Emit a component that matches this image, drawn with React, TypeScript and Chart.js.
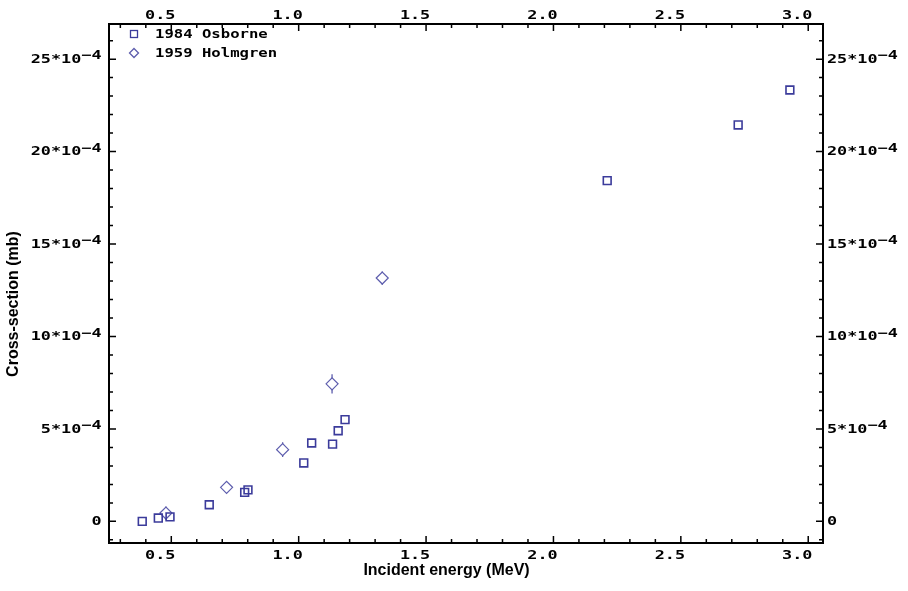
import React, { useEffect, useRef } from 'react';
import { Chart, registerables } from 'chart.js';

Chart.register(...registerables);

// ---- data ----
const osborneEnergy = [0.386, 0.449, 0.495, 0.649, 0.788, 0.801, 1.020, 1.051, 1.133, 1.155, 1.182, 2.211, 2.725, 2.928];
const osborneXS = [0.0e-4, 0.18e-4, 0.24e-4, 0.90e-4, 1.57e-4, 1.70e-4, 3.16e-4, 4.24e-4, 4.18e-4, 4.90e-4, 5.50e-4, 18.43e-4, 21.44e-4, 23.33e-4];

const holmgrenEnergy = [0.479, 0.717, 0.937, 1.131, 1.328];
const holmgrenXS = [0.45e-4, 1.84e-4, 3.88e-4, 7.44e-4, 13.16e-4];
const holmgrenErr = [0.35e-4, 0.2e-4, 0.4e-4, 0.52e-4, 0.36e-4];

const xMajorTicks = [0.5, 1.0, 1.5, 2.0, 2.5, 3.0];
const yMajorTicks = [0, 5e-4, 10e-4, 15e-4, 20e-4, 25e-4];
const legendLabels = ['1984 Osborne', '1959 Holmgren'];
const xTitle = 'Incident energy (MeV)';
const yTitle = 'Cross-section (mb)';

const X_MIN = 0.2555;
const X_MAX = 3.058;
const Y_MIN = -1.17e-4;
const Y_MAX = 26.9e-4;

const SQUARE_COLOR = '#3b3b9b';
const DIAMOND_COLOR = '#5d5dad';
const MONO = 'bold 12px "DejaVu Sans Mono", monospace';
const TICK_STRETCH = 1.4;
const LEGEND_STRETCH = 1.3;

const xLabel = (v: number) => Number(v).toFixed(1);
const yLabelParts = (v: number): [string, string] => {
  const n = Math.round(Number(v) * 1e4);
  return n === 0 ? ['0', ''] : [`${n}*10`, '\u22124'];
};

function stretchedWidth(ctx: CanvasRenderingContext2D, t: string, sx: number) {
  return t ? ctx.measureText(t).width * sx : 0;
}
function drawStretched(ctx: CanvasRenderingContext2D, t: string, x: number, y: number, sx: number) {
  ctx.save();
  ctx.translate(x, y);
  ctx.scale(sx, 1);
  ctx.textAlign = 'left';
  ctx.fillText(t, 0, 0);
  ctx.restore();
}

const framePlugin = {
  id: 'framePlugin',
  beforeDatasetsDraw(chart: any) {
    const ctx = chart.ctx;
    const xs = chart.scales.x;
    const ys = chart.scales.y;
    ctx.save();
    ctx.strokeStyle = DIAMOND_COLOR;
    ctx.lineWidth = 1.3;
    holmgrenEnergy.forEach((e, i) => {
      const px = xs.getPixelForValue(e);
      const y1 = ys.getPixelForValue(holmgrenXS[i] - holmgrenErr[i]);
      const y2 = ys.getPixelForValue(holmgrenXS[i] + holmgrenErr[i]);
      ctx.beginPath();
      ctx.moveTo(px, y1);
      ctx.lineTo(px, y2);
      ctx.stroke();
    });
    ctx.restore();
  },
  afterDraw(chart: any) {
    const ctx = chart.ctx;
    const ca = chart.chartArea;
    const xs = chart.scales.x;
    const ys = chart.scales.y;
    ctx.save();
    ctx.strokeStyle = '#000';
    ctx.lineWidth = 2;
    ctx.strokeRect(ca.left, ca.top, ca.right - ca.left, ca.bottom - ca.top);

    ctx.lineWidth = 1.5;
    const drawXTick = (v: number, len: number) => {
      const px = xs.getPixelForValue(v);
      if (px < ca.left + 1 || px > ca.right - 1) return;
      ctx.beginPath();
      ctx.moveTo(px, ca.bottom);
      ctx.lineTo(px, ca.bottom - len);
      ctx.moveTo(px, ca.top);
      ctx.lineTo(px, ca.top + len);
      ctx.stroke();
    };
    const drawYTick = (v: number, len: number) => {
      const py = ys.getPixelForValue(v);
      if (py < ca.top + 1 || py > ca.bottom - 1) return;
      ctx.beginPath();
      ctx.moveTo(ca.left, py);
      ctx.lineTo(ca.left + len, py);
      ctx.moveTo(ca.right, py);
      ctx.lineTo(ca.right - len, py);
      ctx.stroke();
    };
    for (let k = Math.ceil(X_MIN * 10); k <= Math.floor(X_MAX * 10); k++) {
      drawXTick(k / 10, k % 5 === 0 ? 7 : 4);
    }
    for (let k = Math.ceil(Y_MIN * 1e4); k <= Math.floor(Y_MAX * 1e4); k++) {
      drawYTick(k * 1e-4, k % 5 === 0 ? 7 : 4);
    }

    // tick labels
    ctx.fillStyle = '#000';
    ctx.font = MONO;
    ctx.textBaseline = 'middle';
    xMajorTicks.forEach((v) => {
      const t = xLabel(v);
      const w = stretchedWidth(ctx, t, TICK_STRETCH);
      const cx = xs.getPixelForValue(v) - 11;
      drawStretched(ctx, t, cx - w / 2, ca.bottom + 12.5, TICK_STRETCH);
      drawStretched(ctx, t, cx - w / 2, ca.top - 8.5, TICK_STRETCH);
    });
    yMajorTicks.forEach((v) => {
      const [base, sup] = yLabelParts(v);
      const wb = stretchedWidth(ctx, base, TICK_STRETCH);
      const ws = stretchedWidth(ctx, sup, TICK_STRETCH);
      const py = ys.getPixelForValue(v);
      // left side, right aligned
      let x0 = ca.left - 7.5 - wb - ws;
      drawStretched(ctx, base, x0, py + 0.5, TICK_STRETCH);
      if (sup) drawStretched(ctx, sup, x0 + wb, py - 3, TICK_STRETCH);
      // right side, left aligned
      x0 = ca.right + 4;
      drawStretched(ctx, base, x0, py + 0.5, TICK_STRETCH);
      if (sup) drawStretched(ctx, sup, x0 + wb, py - 3, TICK_STRETCH);
    });

    // legend
    ctx.lineWidth = 1.3;
    ctx.strokeStyle = SQUARE_COLOR;
    ctx.strokeRect(130.5, 30.5, 7, 7);
    ctx.strokeStyle = DIAMOND_COLOR;
    ctx.beginPath();
    ctx.moveTo(134, 48.5);
    ctx.lineTo(138.5, 53);
    ctx.lineTo(134, 57.5);
    ctx.lineTo(129.5, 53);
    ctx.closePath();
    ctx.stroke();
    ctx.fillStyle = '#000';
    ctx.font = MONO;
    ctx.textBaseline = 'middle';
    drawStretched(ctx, legendLabels[0], 155, 34.5, LEGEND_STRETCH);
    drawStretched(ctx, legendLabels[1], 155, 53.5, LEGEND_STRETCH);

    // axis titles
    ctx.font = 'bold 16px "Liberation Sans", Arial, sans-serif';
    ctx.textAlign = 'center';
    ctx.textBaseline = 'middle';
    ctx.fillText(xTitle, 446.5, 571);
    ctx.save();
    ctx.translate(14, 304);
    ctx.rotate(-Math.PI / 2);
    ctx.fillText(yTitle, 0, 0);
    ctx.restore();
    ctx.restore();
  },
};

export default function App() {
  const ref = useRef<HTMLCanvasElement | null>(null);
  useEffect(() => {
    document.body.style.margin = '0';
    const canvas = ref.current;
    if (!canvas) return;
    const commonX = {
      type: 'linear' as const,
      min: X_MIN,
      max: X_MAX,
      grid: { display: false },
      border: { display: false },
      ticks: { display: false },
      afterBuildTicks: (s: any) => {
        s.ticks = xMajorTicks.map((v) => ({ value: v }));
      },
    };
    const commonY = {
      type: 'linear' as const,
      min: Y_MIN,
      max: Y_MAX,
      grid: { display: false },
      border: { display: false },
      ticks: { display: false },
      afterBuildTicks: (s: any) => {
        s.ticks = yMajorTicks.map((v) => ({ value: v }));
      },
    };
    const chart = new Chart(canvas, {
      type: 'scatter',
      data: {
        datasets: [
          {
            label: legendLabels[0],
            data: osborneEnergy.map((e, i) => ({ x: e, y: osborneXS[i] })),
            pointStyle: 'rect',
            pointRadius: 5.5,
            borderColor: SQUARE_COLOR,
            backgroundColor: 'rgba(0,0,0,0)',
            pointBorderWidth: 1.6,
            xAxisID: 'x',
            yAxisID: 'y',
          },
          {
            label: legendLabels[1],
            data: holmgrenEnergy.map((e, i) => ({ x: e, y: holmgrenXS[i] })),
            pointStyle: 'rectRot',
            pointRadius: 6,
            borderColor: DIAMOND_COLOR,
            backgroundColor: '#ffffff',
            pointBorderWidth: 1.2,
            xAxisID: 'x',
            yAxisID: 'y',
          },
        ],
      },
      options: {
        responsive: false,
        devicePixelRatio: 1,
        animation: false,
        layout: { padding: 0 },
        plugins: { legend: { display: false }, tooltip: { enabled: false } },
        scales: {
          x: { ...commonX, position: 'bottom', afterFit: (s: any) => { s.height = 48; } },
          x2: { ...commonX, position: 'top', afterFit: (s: any) => { s.height = 24; } },
          y: { ...commonY, position: 'left', afterFit: (s: any) => { s.width = 109; } },
          y2: { ...commonY, position: 'right', afterFit: (s: any) => { s.width = 85; } },
        },
      } as any,
      plugins: [framePlugin],
    });
    return () => chart.destroy();
  }, []);
  return <canvas ref={ref} width={908} height={591} style={{ display: 'block' }} />;
}
